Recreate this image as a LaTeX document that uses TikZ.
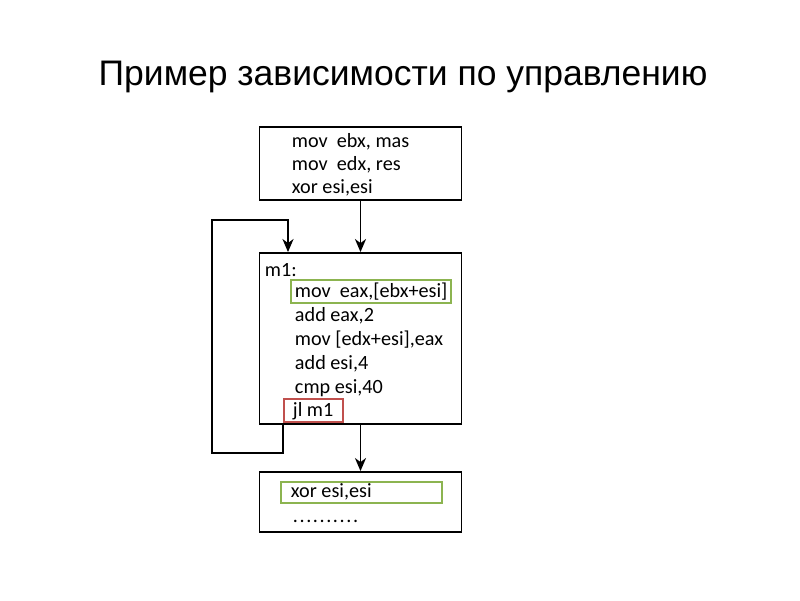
\documentclass[tikz,border=0pt]{standalone}
\usepackage{fontspec}
\setmainfont{Carlito}
\newfontfamily\titlefont{Liberation Sans}
\usetikzlibrary{arrows.meta,positioning}
\definecolor{hlgreen}{RGB}{140,180,80}
\definecolor{hlred}{RGB}{192,80,77}
\newcommand\dotstep{.\kern0.9pt}

\begin{document}
\begin{tikzpicture}[->,>={Stealth[length=2.6mm,width=2.2mm,inset=0.8mm]},x=0.02cm,y=-0.02cm,line width=1.1pt,
  blk/.style={draw,rectangle,minimum width=4.04cm,inner sep=0pt},
  asm/.style={anchor=base west,inner sep=0pt,font=\fontsize{11.5}{14}\selectfont},
  hlbox/.style={draw=#1,line width=0.9pt,rectangle,inner sep=0pt,minimum height=0.46cm}]

  \useasboundingbox (0,0) rectangle (800,600);

  \node[anchor=base,font=\titlefont\fontsize{20.2}{24}\selectfont] (title) at (403,85) {Пример зависимости по управлению};

  % blocks
  \node[blk,minimum height=1.46cm] (b1) at (360.5,163.5) {};
  \node[blk,minimum height=3.42cm] (b2) at (360.5,253+85.5) {};
  \node[blk,minimum height=1.2cm] (b3) at (360.5,502) {};

  % marks
  \node[hlbox=hlgreen,minimum width=3.2cm] (g1) at (371,291.5) {};
  \node[hlbox=hlred,minimum width=1.18cm] (jl) at (313.5,410.5) {};
  \node[hlbox=hlgreen,minimum width=3.22cm,minimum height=0.42cm] (g3) at (361.5,492.5) {};

  % code
  \node[asm] (l1) at (291,147) {mov\ \ ebx, mas};
  \node[asm] (l2) at (291,170) {mov\ \ edx, res};
  \node[asm] (l3) at (291,193) {xor esi,esi};
  \node[asm] (m1) at (264,276) {m1:};
  \node[asm] (l4) at (294,297) {mov\ \ eax,[ebx+esi]};
  \node[asm] (l5) at (294,321) {add eax,2};
  \node[asm] (l6) at (294,345) {mov [edx+esi],eax};
  \node[asm] (l7) at (294,369) {add esi,4};
  \node[asm] (l8) at (294,393) {cmp esi,40};
  \node[asm] (l9) at (292,416) {jl m1};
  \node[asm] (l10) at (290,497) {xor esi,esi};
  \node[asm] (l11) at (292,522) {\dotstep\dotstep\dotstep\dotstep\dotstep\dotstep\dotstep\dotstep\dotstep.};

  \coordinate (lpa) at (212,453);
  \coordinate (lpb) at (288,220);

  \path (b1) edge (b2)
        (b2) edge (b3);
  \draw (jl.south west) |- (lpa) |- (lpb) -- (lpb |- b2.north);

\end{tikzpicture}
\end{document}
